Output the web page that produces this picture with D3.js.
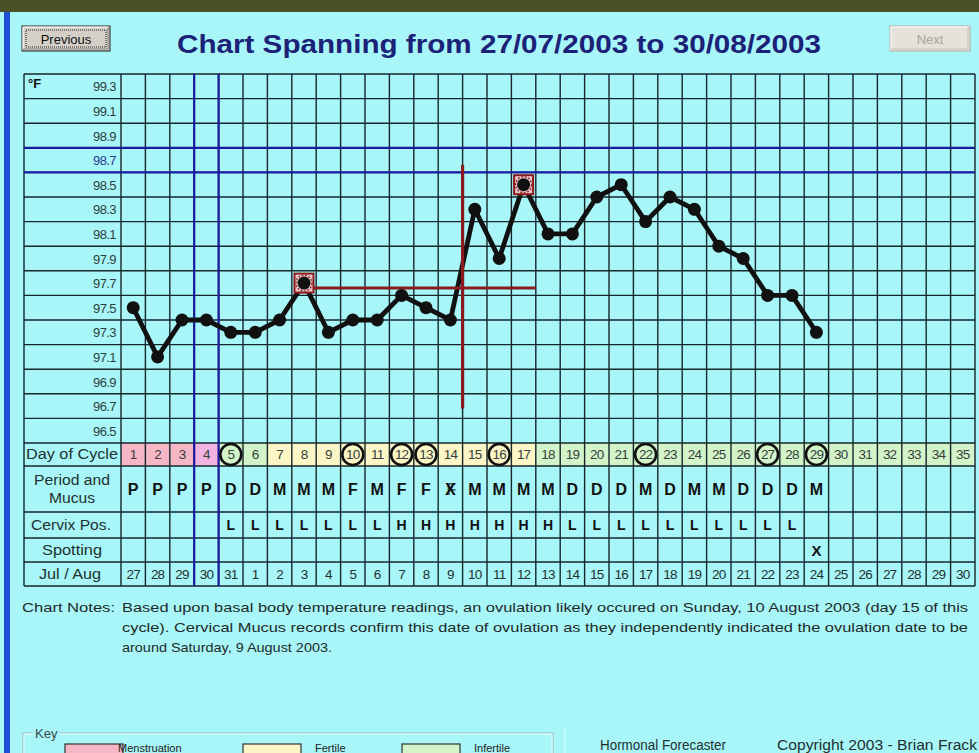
<!DOCTYPE html>
<html><head><meta charset="utf-8">
<script src="https://cdn.jsdelivr.net/npm/d3@7"></script>
<style>html,body{margin:0;padding:0;background:#4b5127;overflow:hidden}</style>
</head><body><svg id="c" width="979" height="753"></svg>
<script>
// ---------------- DATA ----------------
const title = "Chart Spanning from 27/07/2003 to 30/08/2003";
const dayOfCycle = d3.range(1, 36);
const dateLabels = [27,28,29,30,31,1,2,3,4,5,6,7,8,9,10,11,12,13,14,15,16,17,18,19,20,21,22,23,24,25,26,27,28,29,30];
const temperatures = [97.5,97.1,97.4,97.4,97.3,97.3,97.4,97.7,97.3,97.4,97.4,97.6,97.5,97.4,98.3,97.9,98.5,98.1,98.1,98.4,98.5,98.2,98.4,98.3,98.0,97.9,97.6,97.6,97.3];
const phases = ["M","M","M","M","I","I","F","F","F","F","F","F","F","F","F","F","F","I","I","I","I","I","I","I","I","I","I","I","I","I","I","I","I","I","I"];
const mucus = ["P","P","P","P","D","D","M","M","M","F","M","F","F","XF","M","M","M","M","D","D","D","M","D","M","M","D","D","D","M"];
const cervix = ["","","","","L","L","L","L","L","L","L","H","H","H","H","H","H","H","L","L","L","L","L","L","L","L","L","L",""];
const spotting = ["","","","","","","","","","","","","","","","","","","","","","","","","","","","","X"];
const circledDays = [5,10,12,13,16,22,27,29];
const flaggedDays = [8,17];
const tempTicks = [99.3,99.1,98.9,98.7,98.5,98.3,98.1,97.9,97.7,97.5,97.3,97.1,96.9,96.7,96.5];
const coverline = 97.66;
const coverlineFromDay = 8, coverlineToDay = 17.5;
const ovulationBoundary = 14.5;
const ovulationSpan = [96.68, 98.66];
const highlightDay = 4, highlightTemp = 98.7;
const noteLines = [
  "Based upon basal body temperature readings, an ovulation likely occured on Sunday, 10 August 2003 (day 15 of this",
  "cycle).  Cervical Mucus records confirm this date of ovulation as they independently indicated the ovulation date to be",
  "around Saturday, 9 August 2003."
];
const keyLabels = ["Menstruation","Fertile","Infertile"];
const phaseColors = {M:"#f5b7c5", F:"#fcf6c6", I:"#d3f4c9"};

// ---------------- LAYOUT ----------------
const svg = d3.select("#c");
const FONT = "'Liberation Sans', Arial, sans-serif";
const gridL = 121, gridR = 975, labL = 24, gridT = 74, gridB = 443;
const x = d3.scaleLinear().domain([0.5, 35.5]).range([gridL, gridR]);
const y = d3.scaleLinear().domain([96.4, 99.4]).range([gridB, gridT]);
const rows = {doc:[443,466], mucus:[466,512], cervix:[512,538], spot:[538,562], date:[562,586]};
const tableB = 586;
const lineCol = "#16262c";

// background
svg.append("rect").attr("width",979).attr("height",753).attr("fill","#4b5127");
svg.append("rect").attr("x",0).attr("y",12).attr("width",979).attr("height",741).attr("fill","#a8f6f7");
svg.append("rect").attr("x",4).attr("y",12).attr("width",6).attr("height",741).attr("fill","#2150d8");

// buttons
function button(x0,y0,w,h,label,enabled){
  const g = svg.append("g");
  g.append("rect").attr("x",x0).attr("y",y0).attr("width",w).attr("height",h).attr("fill", enabled?"#d4d0c8":"#e6e2da").attr("stroke", enabled?"#202020":"#b0aca4");
  g.append("path").attr("d",`M${x0+1},${y0+h-1}V${y0+1}H${x0+w-1}`).attr("stroke","#fff").attr("fill","none");
  g.append("path").attr("d",`M${x0+1},${y0+h-2}H${x0+w-2}V${y0+1}`).attr("stroke", enabled?"#808080":"#c8c4bc").attr("fill","none");
  if(enabled) g.append("rect").attr("x",x0+4).attr("y",y0+4).attr("width",w-8).attr("height",h-8).attr("fill","none").attr("stroke","#222").attr("stroke-dasharray","1,1");
  g.append("text").attr("x",x0+w/2).attr("y",y0+h/2+5).attr("text-anchor","middle")
    .attr("font-family",FONT).attr("font-size",13).attr("fill", enabled?"#111":"#a8a4a0").text(label);
}
button(22,26,88,25,"Previous",true);
button(890,26,80,25,"Next",false);

svg.append("text").attr("x",499).attr("y",53).attr("text-anchor","middle")
  .attr("font-family",FONT).attr("font-weight","bold").attr("font-size",25)
  .attr("fill","#1c2278").attr("textLength",644).attr("lengthAdjust","spacingAndGlyphs").text(title);

// day-of-cycle fills
svg.append("g").selectAll("rect").data(dayOfCycle).join("rect")
  .attr("x",d=>x(d-0.5)).attr("y",rows.doc[0]).attr("width",x(1.5)-x(0.5)).attr("height",rows.doc[1]-rows.doc[0])
  .attr("fill",(d,i)=> d===highlightDay ? "#f1b3df" : phaseColors[phases[i]]);

// grid lines
const grid = svg.append("g").attr("stroke",lineCol).attr("stroke-width",1.4);
const tempBounds = d3.range(0,16).map(k=>96.4+0.2*k);
grid.selectAll(".h").data(tempBounds).join("line")
  .attr("x1",labL).attr("x2",gridR).attr("y1",d=>y(d)).attr("y2",d=>y(d));
grid.selectAll(".hr").data([rows.mucus[0],rows.cervix[0],rows.spot[0],rows.date[0],tableB]).join("line")
  .attr("x1",labL).attr("x2",gridR).attr("y1",d=>d).attr("y2",d=>d);
grid.selectAll(".v").data(d3.range(0,36)).join("line")
  .attr("x1",d=>x(d+0.5)).attr("x2",d=>x(d+0.5)).attr("y1",gridT).attr("y2",tableB);
grid.append("line").attr("x1",labL).attr("x2",labL).attr("y1",gridT).attr("y2",tableB);

// highlight (blue) cross
const blue = svg.append("g").attr("stroke","#1a1aa0").attr("stroke-width",2.2);
[highlightTemp-0.1, highlightTemp+0.1].forEach(v=>blue.append("line").attr("x1",labL).attr("x2",gridR).attr("y1",y(v)).attr("y2",y(v)));
[highlightDay-0.5, highlightDay+0.5].forEach(d=>blue.append("line").attr("x1",x(d)).attr("x2",x(d)).attr("y1",gridT).attr("y2",tableB));

// temperature labels
svg.append("g").selectAll("text").data(tempTicks).join("text")
  .attr("x",116).attr("y",d=>y(d)+5).attr("text-anchor","end")
  .attr("font-family",FONT).attr("font-size",13).attr("letter-spacing","-0.6")
  .attr("fill",d=>d===highlightTemp?"#2a3c8c":"#2e3f40").text(d=>d.toFixed(1));
svg.append("text").attr("x",28).attr("y",88).attr("font-family",FONT).attr("font-weight","bold").attr("font-size",13).attr("fill","#111").text("°F");

// row labels
const lab = svg.append("g").attr("font-family",FONT).attr("font-size",14).attr("fill","#22302f").attr("text-anchor","middle");
lab.append("text").attr("x",72).attr("y",459).attr("textLength",92).attr("lengthAdjust","spacingAndGlyphs").text("Day of Cycle");
lab.append("text").attr("x",72).attr("y",485).attr("textLength",76).attr("lengthAdjust","spacingAndGlyphs").text("Period and");
lab.append("text").attr("x",72).attr("y",503).attr("textLength",46).attr("lengthAdjust","spacingAndGlyphs").text("Mucus");
lab.append("text").attr("x",71).attr("y",530).attr("textLength",80).attr("lengthAdjust","spacingAndGlyphs").text("Cervix Pos.");
lab.append("text").attr("x",72).attr("y",555).attr("textLength",60).attr("lengthAdjust","spacingAndGlyphs").text("Spotting");
lab.append("text").attr("x",70).attr("y",579).attr("textLength",62).attr("lengthAdjust","spacingAndGlyphs").text("Jul / Aug");

// day of cycle numbers
svg.append("g").selectAll("text").data(dayOfCycle).join("text")
  .attr("x",d=>x(d)).attr("y",459).attr("text-anchor","middle")
  .attr("font-family",FONT).attr("font-size",13.5).attr("letter-spacing","-0.8").attr("fill","#35403a").text(d=>d);
// circled days
svg.append("g").selectAll("circle").data(circledDays).join("circle")
  .attr("cx",d=>x(d)).attr("cy",(rows.doc[0]+rows.doc[1])/2).attr("r",10.5)
  .attr("fill","none").attr("stroke","#111").attr("stroke-width",2.6);

// mucus row
const mu = svg.append("g").attr("font-family",FONT).attr("font-weight","bold").attr("font-size",16).attr("fill","#111").attr("text-anchor","middle");
mucus.forEach((m,i)=>{
  const cx = x(i+1), cy = 495;
  if(m==="XF"){
    mu.append("text").attr("x",cx).attr("y",cy).text("X");
    mu.append("text").attr("x",cx+1).attr("y",cy).text("F").attr("opacity",0.6);
  } else mu.append("text").attr("x",cx).attr("y",cy).text(m);
});
// cervix row
svg.append("g").selectAll("text").data(cervix).join("text")
  .attr("x",(d,i)=>x(i+1)).attr("y",530).attr("text-anchor","middle")
  .attr("font-family",FONT).attr("font-weight","bold").attr("font-size",14).attr("fill","#111").text(d=>d);
// spotting row
svg.append("g").selectAll("text").data(spotting).join("text")
  .attr("x",(d,i)=>x(i+1)).attr("y",556).attr("text-anchor","middle")
  .attr("font-family",FONT).attr("font-weight","bold").attr("font-size",15).attr("fill","#111").text(d=>d);
// dates
svg.append("g").selectAll("text").data(dateLabels).join("text")
  .attr("x",(d,i)=>x(i+1)).attr("y",579).attr("text-anchor","middle")
  .attr("font-family",FONT).attr("font-size",13.5).attr("letter-spacing","-0.8").attr("fill","#22302f").text(d=>d);

// temperature line
const pts = temperatures.map((t,i)=>[i+1,t]);
svg.append("path").datum(pts)
  .attr("d",d3.line().x(d=>x(d[0])).y(d=>y(d[1])))
  .attr("fill","none").attr("stroke","#111").attr("stroke-width",4.8).attr("stroke-linejoin","round");

// coverline and ovulation line
const red = svg.append("g").attr("stroke","#8a1a1c").attr("stroke-width",3.2);
red.append("line").attr("x1",x(coverlineFromDay)).attr("x2",x(coverlineToDay)).attr("y1",y(coverline)).attr("y2",y(coverline));
red.append("line").attr("x1",x(ovulationBoundary)).attr("x2",x(ovulationBoundary)).attr("y1",y(ovulationSpan[1])).attr("y2",y(ovulationSpan[0]));

// flagged markers
svg.append("g").selectAll("rect").data(flaggedDays).join("rect")
  .attr("x",d=>x(d)-9.5).attr("y",d=>y(temperatures[d-1])-9.5).attr("width",19).attr("height",19)
  .attr("fill","#e8c8cc").attr("stroke","#8a1a1c").attr("stroke-width",2);
svg.append("g").selectAll("circle").data(flaggedDays).join("circle")
  .attr("cx",d=>x(d)).attr("cy",d=>y(temperatures[d-1])).attr("r",8)
  .attr("fill","none").attr("stroke","#9a2a2a").attr("stroke-width",1.4).attr("stroke-dasharray","2,1.5");

// dots
svg.append("g").selectAll("circle.p").data(pts).join("circle")
  .attr("cx",d=>x(d[0])).attr("cy",d=>y(d[1])).attr("r",6.5).attr("fill","#111");

// notes
const nt = svg.append("g").attr("font-family",FONT).attr("font-size",13.5).attr("fill","#1e2a2a");
nt.append("text").attr("x",22).attr("y",612).attr("textLength",93).attr("lengthAdjust","spacingAndGlyphs").text("Chart Notes:");
const noteWidths = [846, 846, 210];
noteLines.forEach((l,i)=>nt.append("text").attr("x",122).attr("y",612+i*20).attr("textLength",noteWidths[i]).attr("lengthAdjust","spacingAndGlyphs").text(l));

// key box
svg.append("rect").attr("x",23).attr("y",733).attr("width",530).attr("height",60).attr("fill","none").attr("stroke","#8fb8b8").attr("stroke-width",1);
svg.append("rect").attr("x",24).attr("y",734).attr("width",528).attr("height",60).attr("fill","none").attr("stroke","#e8ffff").attr("stroke-width",1);
svg.append("rect").attr("x",33).attr("y",726).attr("width",26).attr("height",14).attr("fill","#a8f6f7");
svg.append("text").attr("x",35).attr("y",738).attr("font-family",FONT).attr("font-size",13).attr("fill","#3a4a4a").text("Key");
const keyX = [65,243,402], keyTX = [118,315,474];
keyLabels.forEach((k,i)=>{
  svg.append("rect").attr("x",keyX[i]).attr("y",744).attr("width",58).attr("height",20)
    .attr("fill",phaseColors[["M","F","I"][i]]).attr("stroke","#333").attr("stroke-width",1.2);
  svg.append("text").attr("x",keyTX[i]).attr("y",752).attr("font-family",FONT).attr("font-size",11).attr("fill","#222").text(k);
});
svg.append("line").attr("x1",565).attr("x2",565).attr("y1",728).attr("y2",753).attr("stroke","#d8ffff");
const ft = svg.append("g").attr("font-family",FONT).attr("font-size",14).attr("fill","#223030");
ft.append("text").attr("x",600).attr("y",750).attr("textLength",126).attr("lengthAdjust","spacingAndGlyphs").text("Hormonal Forecaster");
ft.append("text").attr("x",777).attr("y",750).attr("textLength",200).attr("lengthAdjust","spacingAndGlyphs").text("Copyright 2003 - Brian Frack");
</script></body></html>
